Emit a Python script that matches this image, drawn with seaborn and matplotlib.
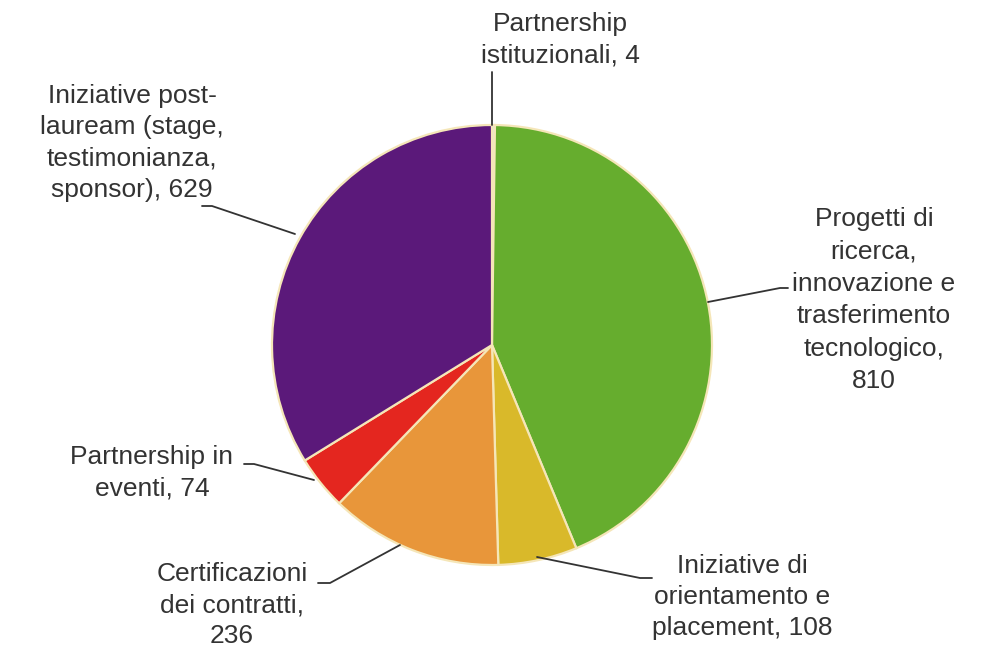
import matplotlib
matplotlib.use("Agg")
import matplotlib.pyplot as plt
import seaborn as sns

categories = [
    "Partnership\nistituzionali, 4",
    "Progetti di\nricerca,\ninnovazione e\ntrasferimento\ntecnologico,\n810",
    "Iniziative di\norientamento e\nplacement, 108",
    "Certificazioni\ndei contratti,\n236",
    "Partnership in\neventi, 74",
    "Iniziative post-\nlauream (stage,\ntestimonianza,\nsponsor), 629",
]
values = [4, 810, 108, 236, 74, 629]
colors = ["#dfe6ea", "#66ad2e", "#d9b92a", "#e8963a", "#e4261f", "#5b197a"]

sns.set_theme(style="white")
plt.rcParams["font.family"] = ["Liberation Sans", "DejaVu Sans"]

W, H = 986, 650
cx, cy, R = 492, 345, 220

def px(x, y):
    return (x - cx) / R, (cy - y) / R

fig = plt.figure(figsize=(W / 100, H / 100), dpi=100)
ax = fig.add_axes([0, 0, 1, 1])
ax.pie(values, colors=colors, startangle=90, counterclock=False, radius=1,
       wedgeprops=dict(edgecolor="#f5e6b8", linewidth=1.6))
ax.set_xlim(-cx / R, (W - cx) / R)
ax.set_ylim(-(H - cy) / R, cy / R)
ax.set_aspect("auto")
ax.axis("off")

# label text centre (pixel), line spacing, leader line points (pixel)
label_pos = [
    ((560, 40), 1.38, [(492, 125), (492, 72)]),
    ((874, 300), 1.45, [(708, 302), (780, 288), (788, 288)]),
    ((742, 597), 1.38, [(537, 557), (640, 578), (652, 578)]),
    ((232, 605), 1.38, [(400, 545), (330, 583), (318, 583)]),
    ((152, 473), 1.38, [(314, 480), (254, 464), (244, 464)]),
    ((132, 143), 1.38, [(295, 234), (212, 206), (202, 206)]),
]

for lab, (pos, ls, pts) in zip(categories, label_pos):
    x, y = px(*pos)
    ax.text(x, y, lab, ha="center", va="center", fontsize=19, color="#333333",
            linespacing=ls)
    xs = [px(*p)[0] for p in pts]
    ys = [px(*p)[1] for p in pts]
    ax.plot(xs, ys, color="#333333", linewidth=1.3)

fig.savefig("out.png", dpi=100)
